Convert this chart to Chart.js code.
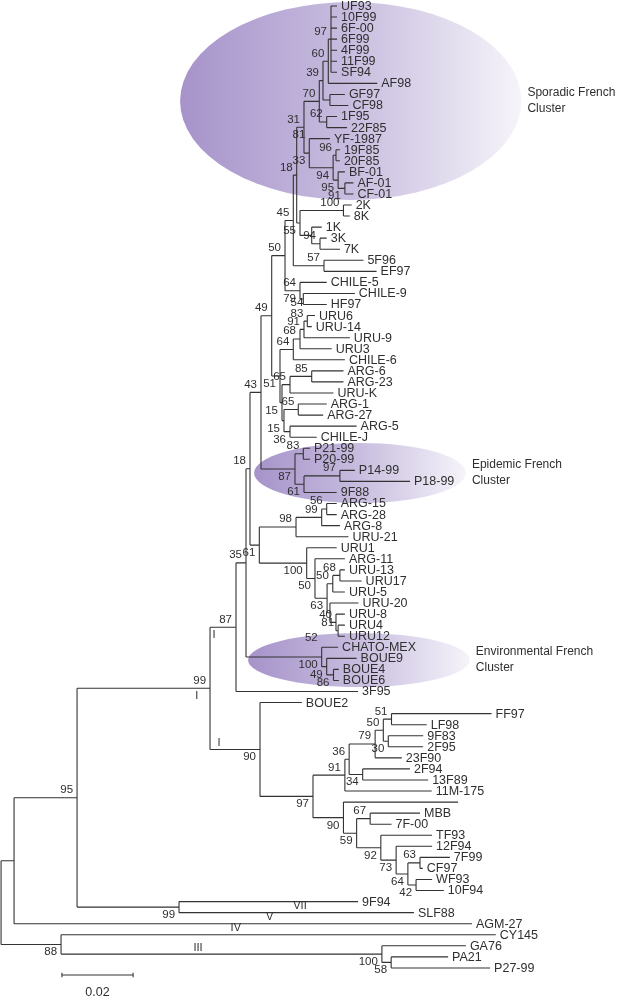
<!DOCTYPE html>
<html>
<head>
<meta charset="utf-8">
<script src="https://cdn.jsdelivr.net/npm/chart.js@4.4.1/dist/chart.umd.min.js"></script>
<style>
  html, body { margin: 0; padding: 0; background: #fff; }
  #wrap { width: 620px; height: 1000px; position: relative; }
</style>
</head>
<body>
<div id="wrap"><canvas id="tree"></canvas></div>
<script>
// taxa, top to bottom: name, parent clade, distance from root (subst./site)
const taxa = [
  ["UF93","nA",0.0944],["10F99","nA",0.0944],["6F-00","nA",0.0944],["6F99","nA",0.0944],
  ["4F99","nA",0.0944],["11F99","nA",0.0944],["SF94","nA",0.0944],["AF98","n60",0.1057],
  ["GF97","nGC",0.0966],["CF98","nGC",0.0976],["1F95","n1F",0.0944],["22F85","n1F",0.0972],
  ["YF-1987","n81",0.0924],["19F85","n96",0.0952],["20F85","n96",0.0952],["BF-01","n95",0.0966],
  ["AF-01","n91",0.0990],["CF-01","n91",0.0990],["2K","n100K",0.0985],["8K","n100K",0.0980],
  ["1K","n1K",0.0901],["3K","n94K",0.0915],["7K","n94K",0.0952],["5F96","c57",0.1018],
  ["EF97","c57",0.1055],["CHILE-5","c64",0.0915],["CHILE-9","nCH",0.0994],["HF97","nCH",0.0915],
  ["URU6","node83",0.0882],["URU-14","node83",0.0873],["URU-9","node91",0.0980],["URU3","node68",0.0929],
  ["CHILE-6","nU64",0.0966],["ARG-6","node85",0.0962],["ARG-23","node85",0.0962],["URU-K","n290",0.0934],
  ["ARG-1","nARG1",0.0915],["ARG-27","nARG1",0.0905],["ARG-5","nARG5",0.0999],["CHILE-J","nARG5",0.0887],
  ["P21-99","node83e",0.0868],["P20-99","node83e",0.0868],["P14-99","node97e",0.0994],["P18-99","node97e",0.1149],
  ["9F88","node61e",0.0943],["ARG-15","node56",0.0943],["ARG-28","node56",0.0943],["ARG-8","node99",0.0952],
  ["URU-21","c98",0.0976],["URU1","cU100",0.0943],["ARG-11","node50a",0.0966],["URU-13","node68u",0.0966],
  ["URU17","node68u",0.1013],["URU-5","node50u",0.0966],["URU-20","node63u",0.1004],["URU-8","node40u",0.0966],
  ["URU4","node81u",0.0966],["URU12","node81u",0.0966],["CHATO-MEX","cEnv",0.0947],["BOUE9","c49env",0.0999],
  ["BOUE4","c86",0.0949],["BOUE6","c86",0.0949],["3F95","c87",0.1003],["BOUE2","c90",0.0845],
  ["FF97","N51",0.1378],["LF98","N51",0.1196],["9F83","N9F",0.1186],["2F95","N9F",0.1186],
  ["23F90","N79",0.1126],["2F94","N2F",0.1149],["13F89","N2F",0.1200],["11M-175","c91",0.1210],
  ["","c90b",0.1284],["MBB","node67",0.1177],["7F-00","node67",0.1097],["TF93","node92",0.1211],
  ["12F94","node73",0.1211],["7F99","node63",0.1261],["CF97","node63",0.1185],["WF93","node42",0.1211],
  ["10F94","node42",0.1244],["9F94","c99VII",0.1003],["SLF88","c99VII",0.1160],["AGM-27","cL",0.1323],
  ["CY145","c88",0.1390],["GA76","c100g",0.1306],["PA21","c58",0.1256],["P27-99","c58",0.1374]
];

// internal nodes: id, parent, distance from root
const clades = [
  ["root",null,0],["cL","root",0.00365],["c88","root",0.01685],["c100g","c88",0.1070],["c58","c100g",0.1096],
  ["c95","cL",0.02135],["c99VII","c95",0.0500],["c99I","c95",0.05871],["c87","c99I",0.06601],["c90","c99I",0.07275],
  ["c35","c87",0.06882],["c18","c35",0.06994],["c43","c18",0.07303],["cA","c43",0.07604],["c79","cA",0.07978],
  ["n45","c79",0.08211],["n18","n45",0.08306],["n31","n18",0.08511],["n70","n31",0.08941],["n39","n70",0.09045],
  ["n60","n39",0.09194],["nA","n60",0.0927],["nGC","n39",0.0924],["n1F","n70",0.09149],["n81","n31",0.0866],
  ["n94","n81",0.0933],["n96","n94",0.0941],["n95","n94",0.0947],["n91","n95",0.0966],["nKK","n18",0.08399],
  ["n100K","nKK",0.0962],["n1K","nKK",0.08728],["n94K","n1K",0.08961],["c57","n45",0.09073],["c64","c79",0.08399],
  ["nCH","c64",0.08492],["cC","cA",0.07837],["nU64","cC",0.08211],["node68","nU64",0.08399],["node91","node68",0.08511],
  ["node83","node91",0.08604],["n280a","cC",0.07893],["n290","n280a",0.08118],["node85","n290",0.08728],
  ["n285","n280a",0.07949],["nARG1","n285",0.08351],["nARG5","n285",0.08118],["c87e","c43",0.08258],
  ["node83e","c87e",0.08492],["node61e","c87e",0.08511],["node97e","node61e",0.0952],["c61","c18",0.07256],
  ["c98","c61",0.08287],["node99","c98",0.09008],["node56","node99",0.09149],["cU100","c61",0.08587],
  ["node50a","cU100",0.0882],["nodeX","node50a",0.0916],["node50u","nodeX",0.0932],["node68u","node50u",0.0952],
  ["node63u","nodeX",0.0924],["node40u","node63u",0.0941],["node81u","node40u",0.0947],["cEnv","c35",0.09008],
  ["c49env","cEnv",0.09149],["c86","c49env",0.0934],["c97","c90",0.08764],["c91","c97",0.0966],["N36","c91",0.0978],
  ["N79","N36",0.1051],["N50","N79",0.1074],["N51","N50",0.1097],["N9F","N50",0.1088],["N2F","N36",0.1016],
  ["c90b","c97",0.0962],["node59","c90b",0.0999],["node67","node59",0.1037],["node92","node59",0.1067],
  ["node73","node92",0.1110],["node64","node73",0.1143],["node63","node64",0.1177],["node42","node64",0.1166]
];

// bootstrap values: clade, value, where (a above the branch, aa higher, b below)
const support = [
  ["nA","97","a"],["n60","60","a"],["n39","39","a"],["n70","70","a"],["n1F","62","a"],["n31","31","a"],
  ["n81","81","aa"],["n81","33","b"],["n94","94","b"],["n96","96","a"],["n95","95","b"],["n91","91","b"],
  ["n18","18","a"],["n45","45","a"],["nKK","55","b"],["n100K","100","a"],["n94K","94","a"],["c57","57","a"],
  ["c79","50","a"],["c64","64","a"],["c64","79","b"],["cA","49","a"],
  ["node83","83","a"],["node83","54","aa"],["node91","91","a"],["node68","68","a"],["nU64","64","a"],
  ["cC","51","b"],["n290","65","a"],["node85","85","a"],["n280a","15","b"],["nARG1","65","a"],
  ["n285","15","b"],["nARG5","36","b"],
  ["c43","43","a"],["c87e","87","b"],["node83e","83","a"],["node97e","97","a"],["node61e","61","b"],
  ["c18","18","a"],["c61","61","b"],["c98","98","a"],["node99","99","a"],["node56","56","a"],
  ["cU100","100","b"],["node50a","50","b"],["nodeX","63","b"],["node50u","50","a"],["node68u","68","a"],
  ["node40u","40","a"],["node81u","81","a"],
  ["c35","35","a"],["cEnv","100","b"],["cEnv","52","aa"],["c49env","49","b"],["c86","86","b"],
  ["c87","87","a"],["c99I","99","a"],["c90","90","b"],["c97","97","b"],
  ["c91","91","a"],["N36","36","a"],["N79","79","a"],["N50","50","a"],["N51","51","a"],["N9F","30","b"],["N2F","34","b"],
  ["c90b","90","b"],["node67","67","a"],["node59","59","b"],["node92","92","b"],["node73","73","b"],
  ["node64","64","b"],["node63","63","a"],["node42","42","b"],
  ["c95","95","a"],["c99VII","99","b"],["c88","88","b"],["c100g","100","b"],["c58","58","b"]
];

// genotype numerals written on branches: text, node at branch end, fraction along branch, side
const groups = [
  ["I","c87",0.15,"b"],["I","c99I",0.90,"b"],["I","c90",0.18,"a"],
  ["VII","SLF88",0.515,"a"],["V","AGM-27",0.558,"a"],["IV","CY145",0.402,"a"],["III","c100g",0.427,"a"]
];

// shaded clusters
const clusterNames = [["Sporadic French","Cluster"],["Epidemic French","Cluster"],["Environmental French","Cluster"]];
const clusterDepth = [[0.0503,0.1462],[0.0711,0.1306],[0.0694,0.1317]];
const clusterRows = [[-0.36,17.55],[39.52,44.95],[56.71,61.59]];

// scale bar
const barStart = 0.0171;
const barLength = 0.02;
const barRow = 87.64;

// ---- build the tree
const nodes = {};
clades.forEach(([id, parent, d]) => { nodes[id] = { id, parent, d, kids: [] }; });
const leaves = taxa.map(([name, parent, d], i) => {
  const n = { id: "leaf" + i, name, parent, d, y: i, kids: [] };
  nodes[n.id] = n;
  if (name) nodes[name] = n;
  return n;
});
Object.values(nodes).forEach(n => {
  if (n.parent && !n.linked) { nodes[n.parent].kids.push(n); n.linked = true; }
});
function place(n) {
  if (!n.kids.length) return n.y;
  const ys = n.kids.map(place);
  n.y0 = Math.min(...ys); n.y1 = Math.max(...ys);
  n.y = (n.y0 + n.y1) / 2;
  return n.y;
}
place(nodes.root);

const branches = [];
const seen = new Set();
Object.values(nodes).forEach(n => {
  if (seen.has(n)) return;
  seen.add(n);
  if (n.kids.length) branches.push({ x: n.d, y: n.y0 }, { x: n.d, y: n.y1 }, { x: null, y: null });
  if (n.parent) branches.push({ x: nodes[n.parent].d, y: n.y }, { x: n.d, y: n.y }, { x: null, y: null });
});

const bar = [
  { x: barStart, y: barRow }, { x: barStart + barLength, y: barRow }, { x: null, y: null },
  { x: barStart, y: barRow - 0.2 }, { x: barStart, y: barRow + 0.2 }, { x: null, y: null },
  { x: barStart + barLength, y: barRow - 0.2 }, { x: barStart + barLength, y: barRow + 0.2 }
];

const INK = "#2f2f2f";
const FONT = '"Liberation Sans", Arial, sans-serif';

const treeText = {
  id: "treeText",
  beforeDatasetsDraw(chart) {
    const { ctx, scales: { x, y } } = chart;
    ctx.save();
    clusterDepth.forEach((dr, i) => {
      const x0 = x.getPixelForValue(dr[0]), x1 = x.getPixelForValue(dr[1]);
      const y0 = y.getPixelForValue(clusterRows[i][0]), y1 = y.getPixelForValue(clusterRows[i][1]);
      const g = ctx.createLinearGradient(x0, 0, x1, 0);
      g.addColorStop(0, "rgb(166,147,202)");
      g.addColorStop(0.5, "rgb(200,189,223)");
      g.addColorStop(1, "rgb(246,244,250)");
      ctx.fillStyle = g;
      ctx.beginPath();
      ctx.ellipse((x0 + x1) / 2, (y0 + y1) / 2, (x1 - x0) / 2, Math.abs(y1 - y0) / 2, 0, 0, Math.PI * 2);
      ctx.fill();
    });
    ctx.restore();
  },
  afterDatasetsDraw(chart) {
    const { ctx, scales: { x, y } } = chart;
    const px = v => x.getPixelForValue(v), py = v => y.getPixelForValue(v);
    ctx.save();
    ctx.fillStyle = INK;

    ctx.font = "12.5px " + FONT;
    ctx.textAlign = "left";
    ctx.textBaseline = "middle";
    leaves.forEach(n => { if (n.name) ctx.fillText(n.name, px(n.d) + 4, py(n.y) + 0.5); });

    // cluster names
    ctx.font = "12px " + FONT;
    clusterNames.forEach((lines, i) => {
      const xr = px(clusterDepth[i][1]) + 6;
      const yc = (py(clusterRows[i][0]) + py(clusterRows[i][1])) / 2;
      ctx.fillText(lines[0], xr, yc - 8);
      ctx.fillText(lines[1], xr, yc + 8);
    });

    // bootstrap
    ctx.font = "11.5px " + FONT;
    ctx.textAlign = "right";
    support.forEach(([id, val, side]) => {
      const n = nodes[id];
      const xx = px(n.d) - 4, yy = py(n.y);
      if (side === "b") { ctx.textBaseline = "top"; ctx.fillText(val, xx, yy + 2); }
      else { ctx.textBaseline = "bottom"; ctx.fillText(val, xx, yy - (side === "aa" ? 13 : 2)); }
    });

    // genotype numerals
    ctx.font = "11px " + FONT;
    ctx.textAlign = "center";
    groups.forEach(([txt, id, f, side]) => {
      const n = nodes[id], p = nodes[n.parent];
      const xx = px(p.d + f * (n.d - p.d)), yy = py(n.y);
      if (side === "b") { ctx.textBaseline = "top"; ctx.fillText(txt, xx, yy + 2); }
      else { ctx.textBaseline = "bottom"; ctx.fillText(txt, xx, yy - 1); }
    });

    // scale label
    ctx.font = "12.5px " + FONT;
    ctx.textBaseline = "top";
    ctx.fillText(String(barLength), px(barStart + barLength / 2), py(barRow) + 11);
    ctx.restore();
  }
};

new Chart(document.getElementById("tree"), {
  type: "scatter",
  data: {
    datasets: [
      { data: branches, showLine: true, borderColor: "#333", borderWidth: 1.1, pointRadius: 0, spanGaps: false, clip: false },
      { data: bar, showLine: true, borderColor: "#333", borderWidth: 1.1, pointRadius: 0, spanGaps: false, clip: false }
    ]
  },
  options: {
    animation: false,
    responsive: true,
    maintainAspectRatio: false,
    events: [],
    layout: { padding: 0 },
    plugins: { legend: { display: false }, tooltip: { enabled: false } },
    scales: {
      x: { type: "linear", min: -0.0003, max: 0.1739, display: false },
      y: { type: "linear", min: -0.54, max: 89.9, reverse: true, display: false }
    }
  },
  plugins: [treeText]
});
</script>
</body>
</html>
